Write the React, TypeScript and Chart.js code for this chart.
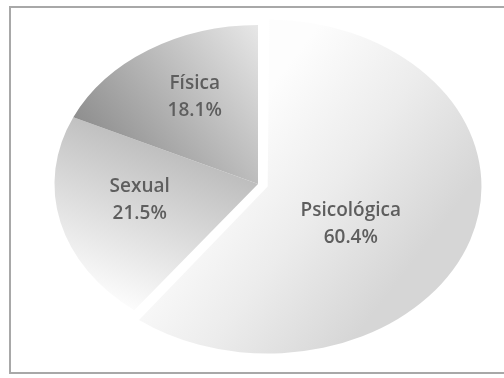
import React, { useEffect, useRef } from "react";
import { Chart, registerables } from "chart.js";

Chart.register(...registerables);

const categories = ["Psicológica", "Sexual", "Física"];
const values = [60.4, 21.5, 18.1];
const valueLabels = ["60.4%", "21.5%", "18.1%"];

const SX = 1.28; // horizontal stretch of the pie (elliptical look)
const labelRadius = [0.47, 0.59, 0.63];
const labelAngleAdj = [11, 4, 3]; // degrees

function makeGradient(chart: any, index: number) {
  const area = chart.chartArea;
  if (!area) return "#dddddd";
  const c = chart.ctx as CanvasRenderingContext2D;
  const cx = (area.left + area.right) / 2;
  const cy = (area.top + area.bottom) / 2;
  const r = 159;
  let g: CanvasGradient;
  if (index === 0) {
    g = c.createLinearGradient(cx, cy - r * 0.6, cx + r, cy);
    g.addColorStop(0, "#fdfdfd");
    g.addColorStop(0.5, "#ececec");
    g.addColorStop(1, "#d6d6d6");
  } else if (index === 1) {
    g = c.createLinearGradient(cx - r * 0.5, cy + r * 0.85, cx, cy - r * 0.1);
    g.addColorStop(0, "#fcfcfc");
    g.addColorStop(1, "#b8b8b8");
  } else {
    g = c.createLinearGradient(cx - r * 0.9, cy - r * 0.4, cx + r * 0.1, cy - r);
    g.addColorStop(0, "#8e8e8e");
    g.addColorStop(1, "#eeeeee");
  }
  return g;
}

const stretchPlugin = {
  id: "stretch",
  beforeDatasetsDraw(chart: any) {
    const a = chart.chartArea;
    const cx = (a.left + a.right) / 2;
    const cy = (a.top + a.bottom) / 2;
    const c = chart.ctx;
    c.save();
    c.translate(cx, cy);
    c.scale(SX, 1);
    c.translate(-cx, -cy);
  },
  afterDatasetsDraw(chart: any) {
    const c = chart.ctx;
    c.restore();
    const a = chart.chartArea;
    const cx = (a.left + a.right) / 2;
    const meta = chart.getDatasetMeta(0);
    c.save();
    c.fillStyle = "#5e5e5e";
    c.font = "600 19px 'Open Sans', 'Noto Sans', sans-serif";
    c.textAlign = "center";
    c.textBaseline = "middle";
    meta.data.forEach((arc: any, i: number) => {
      const p = arc.getProps(["x", "y", "startAngle", "endAngle", "outerRadius"], true);
      const mid = (p.startAngle + p.endAngle) / 2;
      const off = (arc.options.offset || 0) / 4;
      const ox = Math.cos(mid) * off;
      const oy = Math.sin(mid) * off;
      const ang = mid + (labelAngleAdj[i] * Math.PI) / 180;
      const rr = p.outerRadius * labelRadius[i];
      const px = p.x + ox + Math.cos(ang) * rr;
      const py = p.y + oy + Math.sin(ang) * rr;
      const ex = cx + (px - cx) * SX;
      c.fillText(categories[i], ex, py - 13);
      c.fillText(valueLabels[i], ex, py + 14);
    });
    c.restore();
  },
};

export default function App() {
  const ref = useRef<HTMLCanvasElement | null>(null);
  useEffect(() => {
    if (!ref.current) return;
    const chart = new Chart(ref.current, {
      type: "pie",
      data: {
        labels: categories,
        datasets: [
          {
            data: values,
            backgroundColor: (ctx: any) => makeGradient(ctx.chart, ctx.dataIndex),
            borderWidth: 0,
            offset: [32, 0, 0],
            clip: false as any,
          },
        ],
      },
      options: {
        animation: false,
        responsive: true,
        maintainAspectRatio: false,
        radius: 159,
        layout: { padding: { left: 12, right: 0, top: 0, bottom: 10 } },
        plugins: { legend: { display: false }, tooltip: { enabled: false } },
      } as any,
      plugins: [stretchPlugin],
    });
    return () => chart.destroy();
  }, []);
  return (
    <div style={{ position: "fixed", left: 0, top: 0, width: 504, height: 378, background: "#ffffff" }}>
      <div
        style={{
          position: "absolute",
          left: 9,
          top: 6,
          width: 495,
          height: 364,
          borderTop: "2px solid #a8a8a8",
          borderLeft: "2px solid #a8a8a8",
          borderBottom: "2px solid #a8a8a8",
        }}
      />
      <canvas ref={ref} style={{ position: "absolute", left: 0, top: 0 }} />
    </div>
  );
}
